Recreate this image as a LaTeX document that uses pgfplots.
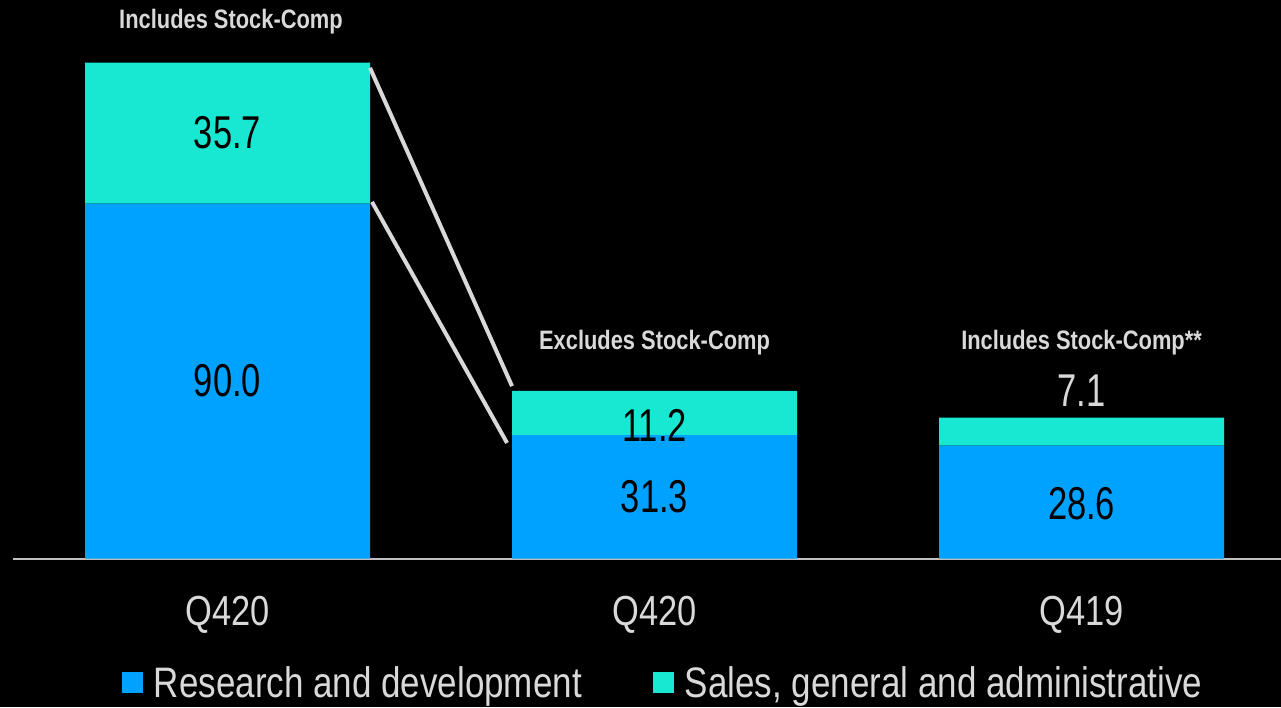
\documentclass[border=0pt]{standalone}
\usepackage{pgfplots}
\pgfplotsset{compat=1.18}
\usepackage{fontspec}
\setmainfont[FakeStretch=0.82]{Liberation Sans}
\newfontfamily\numfont[FakeStretch=0.75]{Liberation Sans}

\definecolor{rd}{HTML}{00A2FF}
\definecolor{sga}{HTML}{18E8D2}
\definecolor{txt}{HTML}{D9D9D9}
\definecolor{axisline}{HTML}{BFBFBF}

\newcommand{\fs}[1]{\fontsize{#1}{#1}\selectfont}

\begin{document}
\begin{tikzpicture}[
    lbl/.style={font=\numfont\fs{34.5}, text=black, anchor=center, inner sep=0pt},
    hdr/.style={font=\fs{20}\bfseries, text=txt, anchor=base, inner sep=0pt},
    conn/.style={draw=txt, line width=3pt}
]
\fill[black] (0,0) rectangle (960.75pt,530.25pt);
\begin{axis}[
    at={(9.75pt,111.375pt)}, anchor=south west,
    scale only axis, width=951pt, height=418.875pt,
    ybar stacked, bar width=213.75pt,
    xmin=-0.5023, xmax=2.467, ymin=0, ymax=141.6,
    clip=false,
    axis y line=none,
    axis x line*=bottom,
    x axis line style={-, draw=axisline, line width=1.5pt},
    xtick={0,1,2},
    xticklabels={Q420,Q420,Q419},
    major tick length=0pt,
    xticklabel style={font=\fs{31.5}, text=txt, anchor=base, yshift=-49.9pt},
    legend columns=2,
    legend image code/.code={\fill[#1] (0pt,-7.875pt) rectangle (15.75pt,7.875pt);},
    legend style={
        at={(0.08596,-0.2229)}, anchor=west,
        draw=none, fill=none, text=txt, font=\fs{32},
        inner sep=0pt, outer sep=0pt, nodes={inner sep=0pt},
        /tikz/every odd column/.append style={column sep=8.25pt},
        /tikz/every even column/.append style={column sep=53.25pt}
    }
]

% R&D and SG&A, stacked
\addplot[fill=rd, draw=none] coordinates {(0,90.0) (1,31.3) (2,28.6)};
\addplot[fill=sga, draw=none] coordinates {(0,35.7) (1,11.2) (2,7.1)};
\legend{Research and development, {Sales, general and administrative}}

% anchor points for the annotations drawn on top afterwards
\coordinate (c1a) at (axis cs:0.3337,124.4);
\coordinate (c1b) at (axis cs:0.6663,43.7);
\coordinate (c2a) at (axis cs:0.3384,90.4);
\coordinate (c2b) at (axis cs:0.6546,29.3);
\coordinate (v1) at (axis cs:0,45);
\coordinate (v2) at (axis cs:0,107.85);
\coordinate (v3) at (axis cs:1,15.65);
\coordinate (v4) at (axis cs:1,33.8);
\coordinate (v5) at (axis cs:2,13.9);
\coordinate (v6) at (axis cs:2,42.6);
\coordinate (h1) at (axis cs:0.0082,134.3);
\coordinate (h2) at (axis cs:1,53.1);
\coordinate (h3) at (axis cs:2,53.1);
\end{axis}

% connector lines between first two bars
\draw[conn] (c1a) -- (c1b);
\draw[conn] (c2a) -- (c2b);

% value labels
\node[lbl] at (v1) {90.0};
\node[lbl] at (v2) {35.7};
\node[lbl] at (v3) {31.3};
\node[lbl] at (v4) {11.2};
\node[lbl] at (v5) {28.6};
\node[lbl, text=txt] at (v6) {7.1};

% headers
\node[hdr] at (h1) {Includes Stock-Comp};
\node[hdr] at (h2) {Excludes Stock-Comp};
\node[hdr] at (h3) {Includes Stock-Comp**};

\pgfresetboundingbox
\path (0,0) rectangle (960.75pt,530.25pt);
\end{tikzpicture}
\end{document}
